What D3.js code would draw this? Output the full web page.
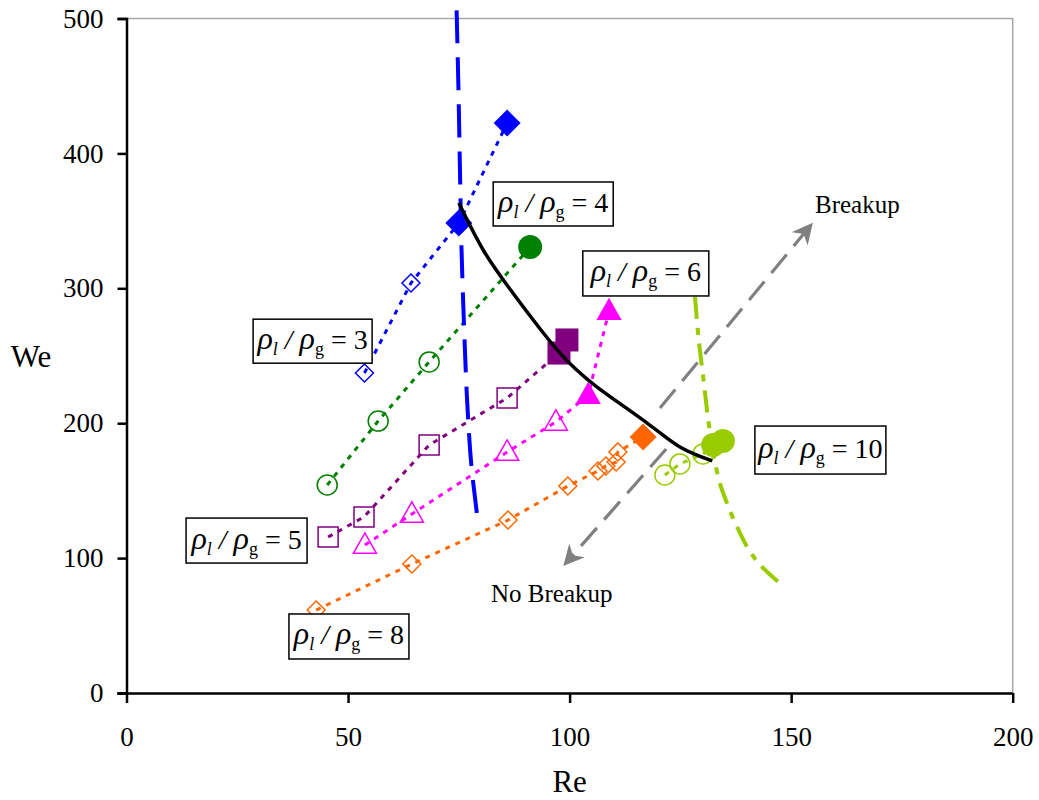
<!DOCTYPE html>
<html><head><meta charset="utf-8">
<script src="https://cdn.jsdelivr.net/npm/d3@7"></script>
<style>body{margin:0;background:#fff}svg{display:block}</style>
</head><body><svg id="c" width="1039" height="800"></svg>
<script>
// ---- data ----
const xTicks = [0, 50, 100, 150, 200];
const yTicks = [0, 100, 200, 300, 400, 500];
// each series: open (no breakup) and filled (breakup) points, [Re, We]
const ratio3Open   = [[53.7,237.2],[64.2,303.9]];
const ratio3Filled = [[75.0,348.4],[85.9,422.5]];
const ratio4Open   = [[45.3,154.2],[56.8,201.6],[68.3,245.4]];
const ratio4Filled = [[91.1,330.6]];
const ratio5Open   = [[45.5,115.6],[53.6,130.5],[68.3,183.8],[85.9,218.7]];
const ratio5Filled = [[97.6,252.0],[99.4,261.7]];
const ratio6Open   = [[53.8,109.7],[64.4,132.7],[85.9,178.6],[96.9,200.9]];
const ratio6Filled = [[104.2,220.9],[108.9,283.2]];
const ratio8Open   = [[42.8,61.5],[64.4,95.6],[86.1,128.2],[99.6,153.4],[106.4,164.6],[108.2,168.3],[110.5,171.2],[110.9,178.7]];
const ratio8Filled = [[116.6,189.8]];
const ratio10Open  = [[121.5,161.6],[124.9,169.8],[130.1,177.2]];
const ratio10Filled= [[132.4,183.8],[134.6,186.8]];
// boundary curves
const blueBoundary = [[74.5,506],[74.9,450],[75.3,380],[75.6,330],[76.2,270],[76.9,215],[77.8,170],[79.2,130]];
const limeBoundary = [[128.3,293.6],[128.9,270],[129.4,254.3],[130.3,230],[131.2,204.6],[132.1,185],[132.8,171.2],[133.9,155.7],[135.6,140],[137.8,123.1],[140.3,107],[143.0,94.9],[147.1,82.3]];
const criticalCurve = [[75.0,363.2],[80.5,328.4],[87.2,296.5],[97.2,254.3],[106.2,226.8],[117.5,200.1],[124.9,182.4],[132.2,172.0]];
// arrows [from, to]
const breakupArrow   = [[120.4,211.3],[154.3,346.2]];
const noBreakupArrow = [[121.8,180.9],[99.2,96.4]];
const ratioLabels = ["3","4","5","6","8","10"];

// ---- layout ----
const svg = d3.select("#c");
const x = d3.scaleLinear().domain([0,200]).range([126.5,1012.7]);
const y = d3.scaleLinear().domain([0,500]).range([693,18.5]);
const FONT = "Liberation Serif, Times New Roman, serif";

svg.append("defs").append("marker").attr("id","ah").attr("viewBox","0 0 10 10")
  .attr("refX",8).attr("refY",5).attr("markerWidth",6.5).attr("markerHeight",6.5)
  .attr("markerUnits","strokeWidth").attr("orient","auto")
  .append("path").attr("d","M0,0 L10,5 L0,10 L3,5 Z").attr("fill","#808080");

// plot frame (top/right)
svg.append("path").attr("d",`M${x(0)},${y(500)} H${x(200)} V${y(0)}`)
  .attr("fill","none").attr("stroke","#a6a6a6").attr("stroke-width",1.5);

const line = d3.line().x(d=>x(d[0])).y(d=>y(d[1]));
const curve = d3.line().x(d=>x(d[0])).y(d=>y(d[1])).curve(d3.curveCatmullRom);
const smooth = d3.line().x(d=>x(d[0])).y(d=>y(d[1])).curve(d3.curveNatural);

const series = [
  {open:ratio3Open, filled:ratio3Filled, color:"#0000ff", shape:"diamond"},
  {open:ratio4Open, filled:ratio4Filled, color:"#008000", shape:"circle"},
  {open:ratio5Open, filled:ratio5Filled, color:"#800080", shape:"square"},
  {open:ratio6Open, filled:ratio6Filled, color:"#ff00ff", shape:"triangle"},
  {open:ratio8Open, filled:ratio8Filled, color:"#ff6600", shape:"diamond"},
  {open:ratio10Open, filled:ratio10Filled, color:"#99cc00", shape:"circle"}
];

// dotted connecting lines
series.forEach(s=>{
  svg.append("path").attr("d", line(s.open.concat(s.filled)))
    .attr("fill","none").attr("stroke",s.color).attr("stroke-width",3)
    .attr("stroke-dasharray","5,6");
});

function shapePath(shape, r){
  if(shape==="diamond") return `M0,${-r} L${r},0 L0,${r} L${-r},0 Z`;
  if(shape==="square") return `M${-r},${-r} H${r} V${r} H${-r} Z`;
  if(shape==="triangle") return `M0,${-r*1.1} L${r*1.05},${r*0.75} L${-r*1.05},${r*0.75} Z`;
  return null;
}
function drawMarker(s, d, filled){
  const g = svg.append("g").attr("transform",`translate(${x(d[0])},${y(d[1])})`);
  const sizes = {diamond:[9,13.5],circle:[10,12],square:[10,11.5],triangle:[11,12]};
  const r = sizes[s.shape][filled?1:0];
  let el;
  if(s.shape==="circle") el = g.append("circle").attr("r",r);
  else el = g.append("path").attr("d",shapePath(s.shape,r));
  if(filled) el.attr("fill",s.color).attr("stroke","none");
  else el.attr("fill","none").attr("stroke",s.color).attr("stroke-width",1.5);
}

// boundary lines
svg.append("path").attr("d",curve(blueBoundary)).attr("fill","none")
  .attr("stroke","#0000ff").attr("stroke-width",4).attr("stroke-dasharray","33,14");
svg.append("path").attr("d",curve(limeBoundary)).attr("fill","none")
  .attr("stroke","#99cc00").attr("stroke-width",4).attr("stroke-dasharray","22,9,7,9");

series.forEach(s=>{
  s.open.forEach(d=>drawMarker(s,d,false));
  s.filled.forEach(d=>drawMarker(s,d,true));
});

svg.append("path").attr("d",smooth(criticalCurve)).attr("fill","none")
  .attr("stroke","#000").attr("stroke-width",3.5);

// arrows
[breakupArrow, noBreakupArrow].forEach(a=>{
  svg.append("path").attr("d",line(a)).attr("fill","none")
    .attr("stroke","#808080").attr("stroke-width",3.2)
    .attr("stroke-dasharray","24,11").attr("marker-end","url(#ah)");
});

// axes
const yAxis = svg.append("g").attr("transform",`translate(${x(0)},0)`)
  .call(d3.axisLeft(y).tickValues(yTicks).tickSize(9).tickPadding(14).tickFormat(d3.format("d")));
const xAxis = svg.append("g").attr("transform",`translate(0,${y(0)})`)
  .call(d3.axisBottom(x).tickValues(xTicks).tickSize(10).tickPadding(24).tickFormat(d3.format("d")));
[yAxis,xAxis].forEach(a=>{
  a.attr("font-family",FONT);
  a.select(".domain").attr("stroke","#000").attr("stroke-width",2.5);
  a.selectAll(".tick line").attr("stroke","#000").attr("stroke-width",2.5);
  a.selectAll(".tick text").style("font-family",FONT).attr("font-size",27).attr("fill","#000");
});
xAxis.select(".domain").attr("d",`M${x(0)-9},0.5H${x(200)}`);

svg.append("text").attr("x",x(100)).attr("y",792).attr("text-anchor","middle")
  .style("font-family",FONT).attr("font-size",31).text("Re");
svg.append("text").attr("x",31).attr("y",367).attr("text-anchor","middle")
  .style("font-family",FONT).attr("font-size",31).text("We");

svg.append("text").attr("x",815).attr("y",213).style("font-family",FONT).attr("font-size",25).text("Breakup");
svg.append("text").attr("x",491).attr("y",602).style("font-family",FONT).attr("font-size",25).text("No Breakup");

// ratio label boxes: center in data coords, size in px
const boxes = [
  {c:[42.0,260.8], w:119, h:44},
  {c:[96.3,362.5], w:120, h:44},
  {c:[27.1,113.0], w:121, h:45},
  {c:[117.2,311.0], w:126, h:45},
  {c:[50.2,41.9], w:120, h:45},
  {c:[156.6,180.1], w:131, h:48}
];
boxes.forEach((b,i)=>{
  const cx = x(b.c[0]), cy = y(b.c[1]);
  svg.append("rect").attr("x",cx-b.w/2).attr("y",cy-b.h/2).attr("width",b.w).attr("height",b.h)
    .attr("fill","#fff").attr("stroke","#000").attr("stroke-width",1.5);
  const t = svg.append("text").style("font-family",FONT).attr("font-size",28)
    .attr("y",cy+8).attr("x",cx);
  t.append("tspan").attr("font-style","italic").attr("font-size",32).text("ρ");
  t.append("tspan").attr("font-style","italic").attr("font-size",18).attr("dy",6).text("l");
  t.append("tspan").attr("font-style","italic").attr("dy",-6).text(" / ");
  t.append("tspan").attr("font-style","italic").attr("font-size",32).text("ρ");
  t.append("tspan").attr("font-size",18).attr("dy",6).text("g");
  t.append("tspan").attr("dy",-6).text(" = "+ratioLabels[i]);
  const w = t.node().getComputedTextLength();
  t.attr("x",cx-w/2);
});
</script></body></html>
